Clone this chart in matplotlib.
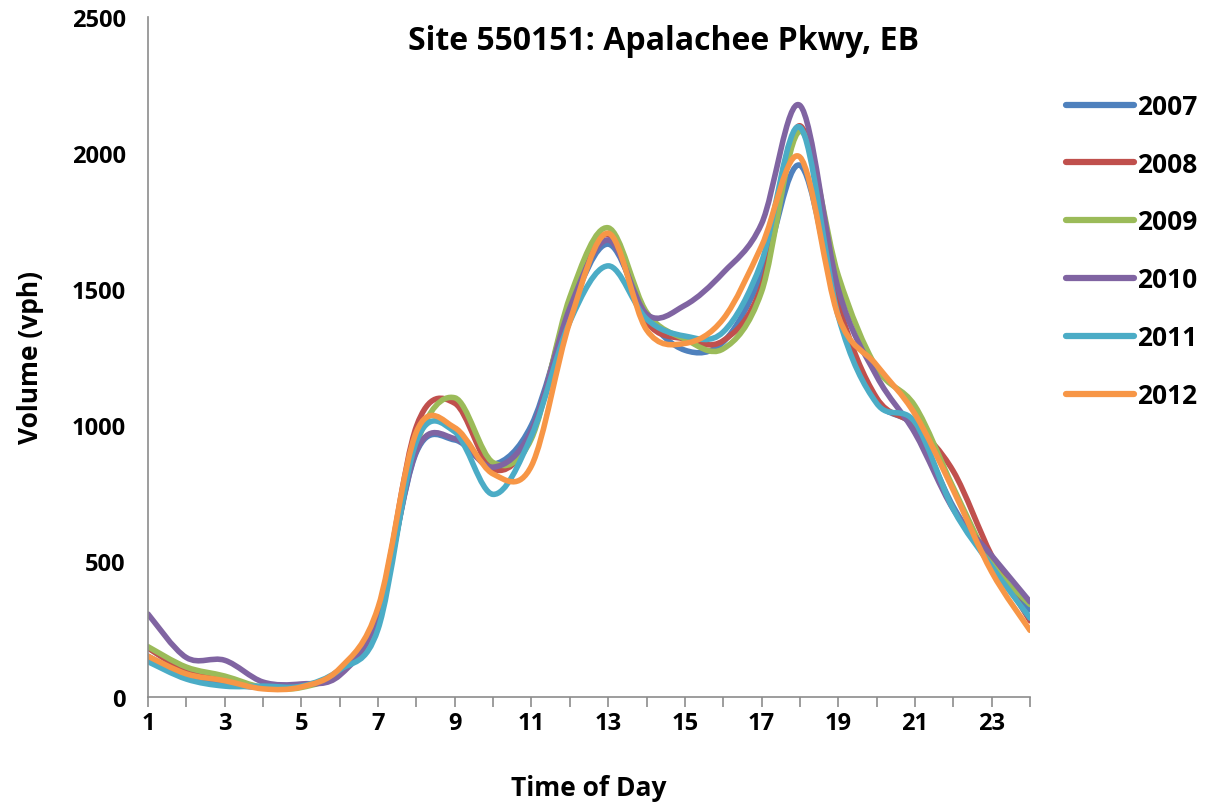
import numpy as np
import matplotlib
matplotlib.use("Agg")
import matplotlib.pyplot as plt
from matplotlib.path import Path
from matplotlib.patches import PathPatch
from matplotlib.lines import Line2D

hours = list(range(1, 25))
years = ["2007", "2008", "2009", "2010", "2011", "2012"]
colors = ["#4F81BD", "#C0504D", "#9BBB59", "#8064A2", "#4BACC6", "#F79646"]

v2007 = [150, 78, 48, 35, 40, 95, 300, 900, 945, 855, 1000, 1420,
         1665, 1400, 1275, 1305, 1550, 1955, 1420, 1090, 990, 700, 490, 320]
v2008 = [180, 96, 66, 35, 40, 95, 310, 995, 1080, 838, 960, 1450,
         1700, 1380, 1316, 1310, 1510, 2100, 1450, 1100, 1000, 830, 520, 280]
v2009 = [185, 110, 77, 35, 35, 95, 290, 930, 1100, 862, 950, 1470,
         1725, 1415, 1316, 1280, 1490, 2080, 1550, 1210, 1070, 770, 490, 340]
v2010 = [305, 145, 135, 55, 48, 80, 300, 905, 950, 845, 980, 1430,
         1680, 1408, 1440, 1560, 1740, 2175, 1500, 1180, 970, 690, 520, 350]
v2011 = [130, 66, 40, 40, 40, 100, 250, 940, 975, 745, 960, 1380,
         1585, 1390, 1327, 1342, 1600, 2095, 1400, 1080, 1010, 690, 480, 290]
v2012 = [150, 85, 60, 30, 37, 105, 330, 975, 990, 820, 850, 1380,
         1705, 1350, 1300, 1390, 1658, 1985, 1400, 1220, 1040, 760, 460, 245]
series = [v2007, v2008, v2009, v2010, v2011, v2012]

FONT = "Open Sans"


def smooth_path(x, y):
    # excel-style smoothed line: cubic bezier through every point
    p = np.column_stack([x, y]).astype(float)
    p_ext = np.vstack([p[0], p, p[-1]])
    verts = [p[0]]
    codes = [Path.MOVETO]
    for i in range(len(p) - 1):
        p0, p1, p2, p3 = p_ext[i], p_ext[i + 1], p_ext[i + 2], p_ext[i + 3]
        c1 = p1 + (p2 - p0) / 6.0
        c2 = p2 - (p3 - p1) / 6.0
        verts += [c1, c2, p2]
        codes += [Path.CURVE4] * 3
    return Path(verts, codes)


fig = plt.figure(figsize=(12.05, 8.04), dpi=100)
ax = fig.add_axes([148 / 1205, 1 - 698 / 804, (1030 - 148) / 1205, (698 - 18) / 804])

handles = []
for yr, col, vals in zip(years, colors, series):
    patch = PathPatch(smooth_path(hours, vals), fill=False, edgecolor=col,
                      lw=4.0, capstyle="round", joinstyle="round")
    ax.add_patch(patch)
    handles.append(Line2D([], [], color=col, lw=4.5, solid_capstyle="round"))

ax.set_xlim(1, 24)
ax.set_ylim(0, 2500)
ax.set_xticks(hours)
ax.set_xticklabels([str(h) if h % 2 == 1 else "" for h in hours])
ax.set_yticks([0, 500, 1000, 1500, 2000, 2500])

for s in ["top", "right"]:
    ax.spines[s].set_visible(False)
for s in ["left", "bottom"]:
    ax.spines[s].set_color("#8c8c8c")
    ax.spines[s].set_linewidth(1.2)
ax.tick_params(axis="x", direction="out", length=7, width=1.2, color="#8c8c8c", pad=3)
ax.tick_params(axis="y", direction="out", length=0, pad=16)
for lab in ax.get_xticklabels() + ax.get_yticklabels():
    lab.set_fontfamily(FONT)
    lab.set_fontweight("bold")
    lab.set_fontsize(17)

ax.set_xlabel("Time of Day", fontfamily=FONT, fontweight="bold", fontsize=19, labelpad=28)
ax.set_ylabel("Volume (vph)", fontfamily=FONT, fontweight="bold", fontsize=19, labelpad=20)
fig.text(664 / 1205, 1 - 41 / 804, "Site 550151: Apalachee Pkwy, EB", ha="center", va="center",
         fontfamily=FONT, fontweight="bold", fontsize=23)

leg = fig.legend(handles, years, loc="upper left", bbox_to_anchor=(1042 / 1205, 1 - 70 / 804),
                 frameon=False, handlelength=2.6, handletextpad=0.1, labelspacing=1.17,
                 prop={"family": FONT, "weight": "bold", "size": 19})

fig.savefig("out.png", dpi=100)
